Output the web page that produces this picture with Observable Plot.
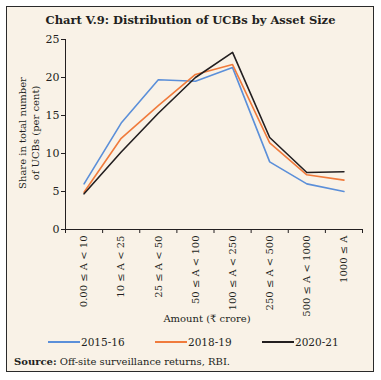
<!DOCTYPE html>
<html>
<head>
<meta charset="utf-8">
<script src="https://cdn.jsdelivr.net/npm/d3@7"></script>
<script src="https://cdn.jsdelivr.net/npm/@observablehq/plot@0.6"></script>
<style>
  body { margin: 0; background: #ffffff; }
  #page { position: relative; width: 381px; height: 380px; overflow: hidden; font-family: "DejaVu Serif", "Liberation Serif", serif; color: #231f20; }
  #frame { position: absolute; left: 6px; top: 6px; width: 368px; height: 366px; box-sizing: border-box; border: 1.5px solid #2a2a2a; background: #f9f2e7; }
  #title { position: absolute; left: 0; width: 381px; top: 13px; text-align: center; font-weight: bold; font-size: 11.5px; }
  #chart { position: absolute; left: 0; top: 30px; }
  #ylabel { position: absolute; left: 29px; top: 133px; width: 140px; margin-left: -70px; margin-top: -13px; height: 26px; text-align: center; font-size: 10px; line-height: 13px; transform: rotate(-90deg); white-space: nowrap; }
  #xlabel { position: absolute; left: 107px; width: 200px; top: 313px; text-align: center; font-size: 10px; }
  .leg { position: absolute; top: 336px; font-size: 10.5px; display: flex; align-items: center; }
  .leg span.sw { display: inline-block; width: 32px; height: 2px; margin-right: 1px; }
  #source { position: absolute; left: 14px; top: 356px; font-size: 10px; }
</style>
</head>
<body>
<div id="page">
  <div id="frame"></div>
  <div id="title">Chart V.9: Distribution of UCBs by Asset Size</div>
  <div id="chart"></div>
  <div id="ylabel">Share in total number<br>of UCBs (per cent)</div>
  <div id="xlabel">Amount (₹ crore)</div>
  <div id="legend"></div>
  <div id="source"><b>Source:</b> Off-site surveillance returns, RBI.</div>
</div>
<script>
const categories = ["0.00 ≤ A < 10", "10 ≤ A < 25", "25 ≤ A < 50", "50 ≤ A < 100", "100 ≤ A < 250", "250 ≤ A < 500", "500 ≤ A < 1000", "1000 ≤ A"];
const seriesNames = ["2015-16", "2018-19", "2020-21"];
const seriesColors = ["#5b8fd9", "#f07b3c", "#231f20"];
const s2015 = [6.0, 14.0, 19.7, 19.5, 21.3, 8.9, 6.0, 5.0];
const s2018 = [4.9, 12.0, 16.3, 20.4, 21.7, 11.4, 7.2, 6.5];
const s2021 = [4.7, 10.2, 15.3, 20.0, 23.3, 12.1, 7.5, 7.6];
const yTicks = [0, 5, 10, 15, 20, 25];

const allSeries = [s2015, s2018, s2021];
const rows = [];
allSeries.forEach((arr, k) => arr.forEach((v, i) => rows.push({i, v, series: seriesNames[k]})));
const edges = categories.map((c, i) => i - 0.5).concat([categories.length - 0.5]);

const chart = Plot.plot({
  width: 381,
  height: 300,
  marginLeft: 65,
  marginRight: 19,
  marginTop: 9,
  marginBottom: 101,
  style: {background: "transparent", fontFamily: "DejaVu Serif, Liberation Serif, serif", fontSize: "10px", color: "#231f20"},
  x: {domain: [-0.5, categories.length - 0.5]},
  y: {domain: [0, 25]},
  color: {domain: seriesNames, range: seriesColors},
  marks: [
    Plot.axisY({ticks: yTicks, tickSize: 4, tickPadding: 2, label: null, fontSize: 11}),
    Plot.axisX({ticks: edges, tickSize: 4, tickFormat: () => "", label: null}),
    Plot.ruleY([0], {x1: -0.5, x2: categories.length - 0.5, stroke: "#231f20"}),
    Plot.ruleX([-0.5], {y1: 0, y2: 25, stroke: "#231f20"}),
    Plot.text(categories, {x: (d, i) => i, y: 0, dy: 6, rotate: -90, textAnchor: "end", text: d => d, fontSize: 10, fill: "#231f20"}),
    Plot.line(rows, {x: "i", y: "v", stroke: "series", strokeWidth: 1.6})
  ]
});
document.getElementById("chart").appendChild(chart);

const legendPos = [48, 155, 262];
const leg = document.getElementById("legend");
seriesNames.forEach((name, k) => {
  const d = document.createElement("div");
  d.className = "leg";
  d.style.left = legendPos[k] + "px";
  const sw = document.createElement("span");
  sw.className = "sw";
  sw.style.background = seriesColors[k];
  d.appendChild(sw);
  d.appendChild(document.createTextNode(name));
  leg.appendChild(d);
});
</script>
</body>
</html>
